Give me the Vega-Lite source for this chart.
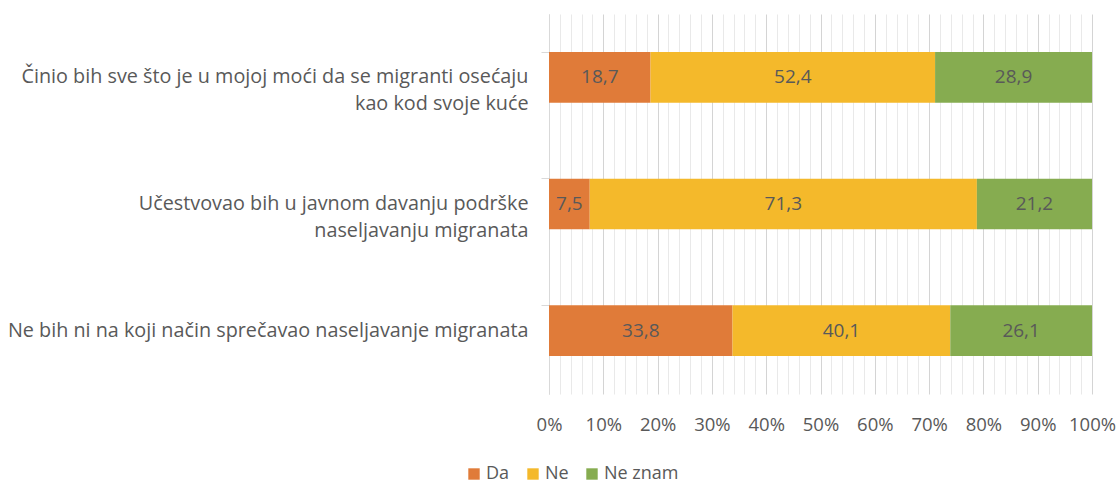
{
  "$schema": "https://vega.github.io/schema/vega-lite/v6.json",
  "width": 543,
  "height": 380,
  "autosize": "none",
  "padding": {"left": 549, "top": 14, "right": 27, "bottom": 88},
  "background": "white",
  "config": {
    "view": {"stroke": null},
    "font": "Open Sans",
    "text": {"font": "Open Sans"}
  },
  "data": {
    "values": [
      {"q": "Činio bih sve što je u mojoj moći da se migranti osećaju|kao kod svoje kuće", "ans": "Da", "value": 18.7},
      {"q": "Činio bih sve što je u mojoj moći da se migranti osećaju|kao kod svoje kuće", "ans": "Ne", "value": 52.4},
      {"q": "Činio bih sve što je u mojoj moći da se migranti osećaju|kao kod svoje kuće", "ans": "Ne znam", "value": 28.9},
      {"q": "Učestvovao bih u javnom davanju podrške|naseljavanju migranata", "ans": "Da", "value": 7.5},
      {"q": "Učestvovao bih u javnom davanju podrške|naseljavanju migranata", "ans": "Ne", "value": 71.3},
      {"q": "Učestvovao bih u javnom davanju podrške|naseljavanju migranata", "ans": "Ne znam", "value": 21.2},
      {"q": "Ne bih ni na koji način sprečavao naseljavanje migranata", "ans": "Da", "value": 33.8},
      {"q": "Ne bih ni na koji način sprečavao naseljavanje migranata", "ans": "Ne", "value": 40.1},
      {"q": "Ne bih ni na koji način sprečavao naseljavanje migranata", "ans": "Ne znam", "value": 26.1}
    ]
  },
  "transform": [
    {"stack": "value", "groupby": ["q"], "sort": [{"field": "ans", "order": "ascending"}], "as": ["x0", "x1"]},
    {"calculate": "(datum.x0 + datum.x1) / 2", "as": "mid"},
    {"calculate": "replace(format(datum.value, '.1f'), '.', ',')", "as": "lbl"}
  ],
  "encoding": {
    "y": {
      "field": "q",
      "type": "nominal",
      "sort": null,
      "title": null,
      "scale": {"paddingInner": 0.6, "paddingOuter": 0.3},
      "axis": {
        "labelExpr": "split(datum.value, '|')",
        "labelFontSize": 19.8,
        "labelColor": "#595959",
        "labelFont": "Open Sans",
        "labelLimit": 600,
        "labelPadding": 13,
        "labelLineHeight": 27,
        "domainColor": "#d9d9d9",
        "tickColor": "#d9d9d9",
        "tickSize": 8,
        "bandPosition": 0,
        "grid": false
      }
    }
  },
  "layer": [
    {
      "mark": {"type": "bar"},
      "encoding": {
        "x": {
          "field": "x0",
          "type": "quantitative",
          "scale": {"domain": [0, 100], "nice": false},
          "title": null,
          "axis": {
            "values": [0,2,4,6,8,10,12,14,16,18,20,22,24,26,28,30,32,34,36,38,40,42,44,46,48,50,52,54,56,58,60,62,64,66,68,70,72,74,76,78,80,82,84,86,88,90,92,94,96,98,100],
            "labelExpr": "datum.value % 10 === 0 ? datum.value + '%' : ''",
            "labelOverlap": false,
            "labelFlush": false,
            "labelFontSize": 18.5,
            "labelColor": "#595959",
            "labelFont": "Open Sans",
            "labelPadding": 21,
            "domain": false,
            "ticks": false,
            "grid": true,
            "gridColor": {"condition": {"test": "datum.value % 10 === 0", "value": "#d4d4d4"}, "value": "#e9e9e9"},
            "gridWidth": 1
          }
        },
        "x2": {"field": "x1"},
        "color": {
          "field": "ans",
          "type": "nominal",
          "scale": {"domain": ["Da", "Ne", "Ne znam"], "range": ["#E07B39", "#F4B92B", "#86AC50"]},
          "legend": {
            "title": null,
            "orient": "none",
            "direction": "horizontal",
            "legendX": -84,
            "legendY": 451,
            "symbolType": "square",
            "symbolSize": 130,
            "symbolStrokeWidth": 0,
            "labelFontSize": 18,
            "labelColor": "#595959",
            "labelFont": "Open Sans",
            "columnPadding": 14,
            "labelOffset": 3
          }
        }
      }
    },
    {
      "mark": {"type": "text", "fontSize": 19, "color": "#595959", "font": "Open Sans"},
      "encoding": {
        "x": {
          "field": "mid",
          "type": "quantitative",
          "title": null,
          "axis": {
            "values": [0,2,4,6,8,10,12,14,16,18,20,22,24,26,28,30,32,34,36,38,40,42,44,46,48,50,52,54,56,58,60,62,64,66,68,70,72,74,76,78,80,82,84,86,88,90,92,94,96,98,100],
            "labelExpr": "datum.value % 10 === 0 ? datum.value + '%' : ''",
            "labelOverlap": false,
            "labelFlush": false,
            "labelFontSize": 18.5,
            "labelColor": "#595959",
            "labelFont": "Open Sans",
            "labelPadding": 21,
            "domain": false,
            "ticks": false,
            "grid": true,
            "gridColor": {"condition": {"test": "datum.value % 10 === 0", "value": "#d4d4d4"}, "value": "#e9e9e9"},
            "gridWidth": 1
          }
        },
        "text": {"field": "lbl"}
      }
    }
  ]
}
